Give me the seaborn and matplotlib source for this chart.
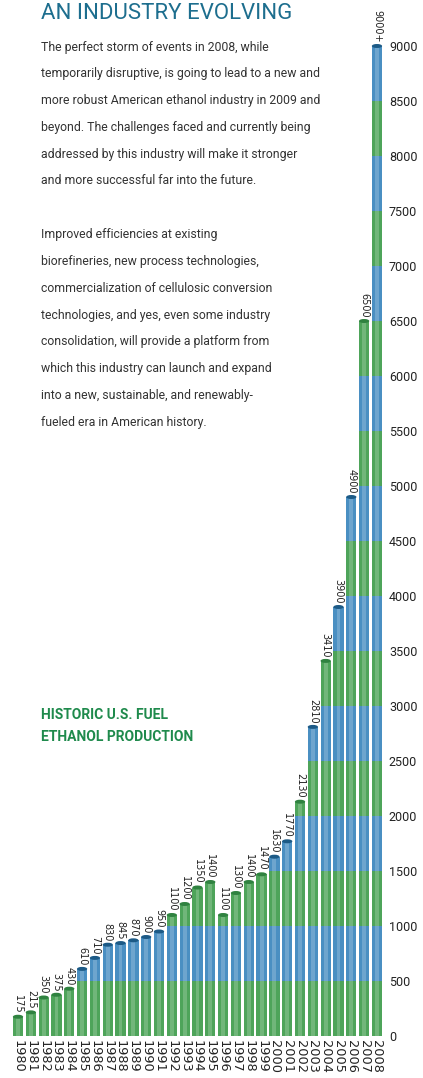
import numpy as np
import pandas as pd
import matplotlib
matplotlib.use("Agg")
import matplotlib.pyplot as plt
from matplotlib.patches import Ellipse
import seaborn as sns

years = [str(y) for y in range(1980, 2009)]
production = [175, 215, 350, 375, 430, 610, 710, 830, 845, 870, 900, 950,
              1100, 1200, 1350, 1400, 1100, 1300, 1400, 1470, 1630, 1770,
              2130, 2810, 3410, 3900, 4900, 6500, 9000]
value_labels = [f"{v}" for v in production[:-1]] + ["9000+"]
y_ticks = list(range(0, 9001, 500))

title = "AN INDUSTRY EVOLVING"
body_lines = [
    "The perfect storm of events in 2008, while",
    "temporarily disruptive, is going to lead to a new and",
    "more robust American ethanol industry in 2009 and",
    "beyond. The challenges faced and currently being",
    "addressed by this industry will make it stronger",
    "and more successful far into the future.",
    "",
    "Improved efficiencies at existing",
    "biorefineries, new process technologies,",
    "commercialization of cellulosic conversion",
    "technologies, and yes, even some industry",
    "consolidation, will provide a platform from",
    "which this industry can launch and expand",
    "into a new, sustainable, and renewably-",
    "fueled era in American history.",
]
chart_title = ["HISTORIC U.S. FUEL", "ETHANOL PRODUCTION"]

GREEN, GREEN_DARK = "#4ea45a", "#2f8240"
BLUE, BLUE_DARK = "#4a8fc2", "#1c5a86"

sns.set_theme(style="white")
plt.rcParams["font.family"] = ["Roboto", "DejaVu Sans"]

W, H = 423, 1078
fig = plt.figure(figsize=(W / 100, H / 100), dpi=100)
fig.patch.set_facecolor("white")

# axes: bar centres at x=18 + 12.82*i px, zero line at y=1036 px, 9000 at y=46 px
px_per_unit = (1036 - 46) / 9000
left_px, right_px = 18 - 6.41, 18 + 12.82 * 28 + 6.41
top_val = 9400
ax = fig.add_axes([left_px / W, (H - 1036) / H, (right_px - left_px) / W,
                   top_val * px_per_unit / H])

df = pd.DataFrame({"year": years, "value": production})
bar_w = 0.8

# striped bands of 500, drawn from the top band down so each layer covers the one above
for k in range(len(y_ticks) - 1, 0, -1):
    band_top = y_ticks[k]
    color = BLUE if (k - 1) % 2 else GREEN
    df["h"] = np.minimum(df["value"], band_top)
    sns.barplot(data=df, x="year", y="h", color=color, saturation=1,
                width=bar_w, ax=ax, errorbar=None, linewidth=0)

# soft highlight down the middle of each cylinder
sns.barplot(data=df, x="year", y="value", color="white", alpha=0.2,
            saturation=1, width=0.3, ax=ax, errorbar=None, linewidth=0)

cap_h = 4 / px_per_unit
for i, v in enumerate(production):
    band = (v - 1) // 500
    cap_color = BLUE_DARK if band % 2 else GREEN_DARK
    ax.add_patch(Ellipse((i, v), bar_w, cap_h, facecolor=cap_color,
                         edgecolor="none", zorder=5))
    ax.text(i, v + cap_h * 0.9, value_labels[i], rotation=270, ha="center",
            va="bottom", fontsize=7, color="#222222", family="DejaVu Sans",
            clip_on=False)

ax.set_xlim(-0.5, len(years) - 0.5)
ax.set_ylim(0, top_val)
ax.set_yticks(y_ticks)
ax.set_yticklabels([str(t) for t in y_ticks])
ax.yaxis.tick_right()
ax.tick_params(axis="y", length=0, pad=4, labelsize=9, labelcolor="#222222")
ax.tick_params(axis="x", length=0, pad=3)
ax.set_xticks(range(len(years)))
ax.set_xticklabels(years, rotation=270, fontsize=9.3, color="#222222",
                   family="DejaVu Sans")
ax.set_xlabel("")
ax.set_ylabel("")
for s in ax.spines.values():
    s.set_visible(False)
ax.set_facecolor("none")

# headline and copy
fig.text(41 / W, 1 - 19 / H, title, fontsize=16, color="#1d6e8e",
         va="baseline", ha="left")
y = 47
for line in body_lines:
    fig.text(41 / W, 1 - y / H, line, fontsize=8.8, color="#333333",
             va="center", ha="left")
    y += 26.8
for j, line in enumerate(chart_title):
    fig.text(41 / W, 1 - (715 + 22 * j) / H, line, fontsize=10,
             fontweight="bold", color="#1f8a4c", va="center", ha="left")

fig.savefig("out.png", dpi=100)
